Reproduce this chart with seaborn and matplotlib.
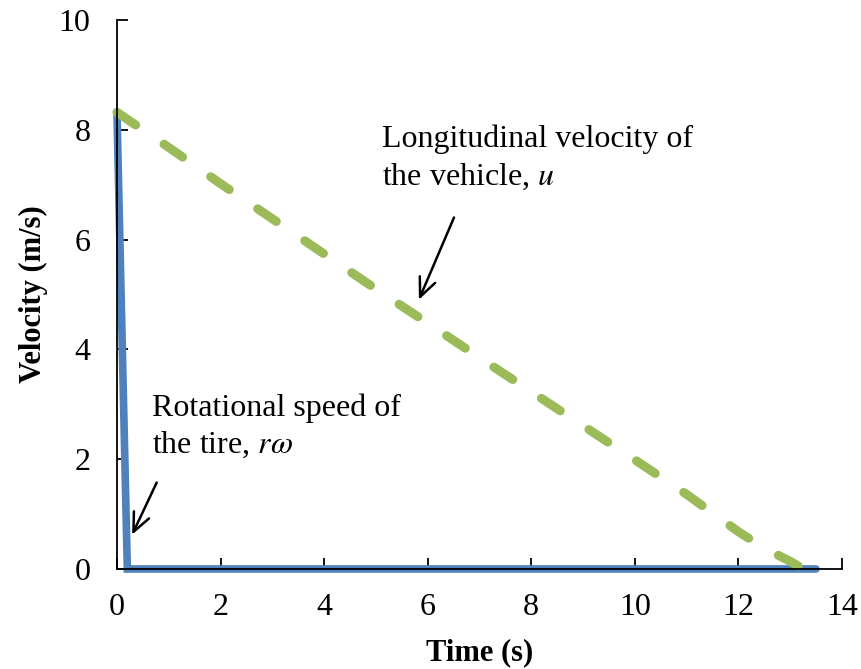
import matplotlib
matplotlib.use("Agg")
import matplotlib.pyplot as plt
import seaborn as sns
import pandas as pd

# Data
tire_time = [0.0, 0.2, 13.5]
tire_speed = [8.3, 0.0, 0.0]
veh_time = [0.0, 1.0, 2.0, 3.0, 4.0, 5.0, 6.0, 7.0, 8.0, 9.0, 10.0, 11.0, 12.0, 12.5, 13.0, 13.2]
veh_speed = [8.32, 7.68, 7.02, 6.38, 5.74, 5.1, 4.48, 3.85, 3.23, 2.61, 1.99, 1.36, 0.68, 0.38, 0.14, 0.03]
x_ticks = [0, 2, 4, 6, 8, 10, 12, 14]
y_ticks = [0, 2, 4, 6, 8, 10]

sns.set_style("white")
plt.rcParams['font.family'] = ['Liberation Serif', 'DejaVu Serif']
plt.rcParams['mathtext.fontset'] = 'stix'
plt.rcParams['text.color'] = 'black'
plt.rcParams['axes.labelcolor'] = 'black'

fig = plt.figure(figsize=(8.62, 6.69), dpi=100)
ax = fig.add_axes([0.1357, 0.1495, 0.841, 0.8205])

df_t = pd.DataFrame({"t": tire_time, "v": tire_speed})
df_v = pd.DataFrame({"t": veh_time, "v": veh_speed})

sns.lineplot(data=df_t, x="t", y="v", ax=ax, color="#4F81BD", lw=5.5,
             solid_capstyle="round", solid_joinstyle="miter", sort=False, clip_on=False)
sns.lineplot(data=df_v, x="t", y="v", ax=ax, color="#9BBB59", lw=6.5,
             dash_capstyle="round", sort=False, clip_on=False)
ax.lines[1].set_dashes([2.5, 3.8])

ax.set_xlim(0, 14)
ax.set_ylim(0, 10)
ax.set_xticks(x_ticks)
ax.set_yticks(y_ticks)
ax.tick_params(direction="in", length=8, width=1.3, labelsize=23, colors="black",
               bottom=True, left=True)
ax.tick_params(axis="y", pad=19)
ax.tick_params(axis="x", pad=17)
for s in ["top", "right"]:
    ax.spines[s].set_visible(False)
for s in ["left", "bottom"]:
    ax.spines[s].set_color("black")
    ax.spines[s].set_linewidth(1.3)
    ax.spines[s].set_zorder(3)

ax.set_xlabel("Time (s)", fontsize=22, fontweight="bold", labelpad=12)
ax.set_ylabel("Velocity (m/s)", fontsize=22, fontweight="bold", labelpad=8)

ax.text(5.12, 8.1, "Longitudinal velocity of\nthe vehicle, $u$", fontsize=23,
        va="top", ha="left", linespacing=1.35)
ax.text(0.68, 3.2, "Rotational speed of\nthe tire, $r\\omega$", fontsize=23,
        va="top", ha="left", linespacing=1.3)

arrow_style = "->,head_length=0.45,head_width=0.2"
ax.annotate("", xy=(5.81, 4.86), xytext=(6.53, 6.45),
            arrowprops=dict(arrowstyle=arrow_style, color="black", lw=1.8, mutation_scale=30))
ax.annotate("", xy=(0.27, 0.58), xytext=(0.79, 1.62),
            arrowprops=dict(arrowstyle=arrow_style, color="black", lw=1.8, mutation_scale=30))

fig.savefig("out.png", dpi=100)
